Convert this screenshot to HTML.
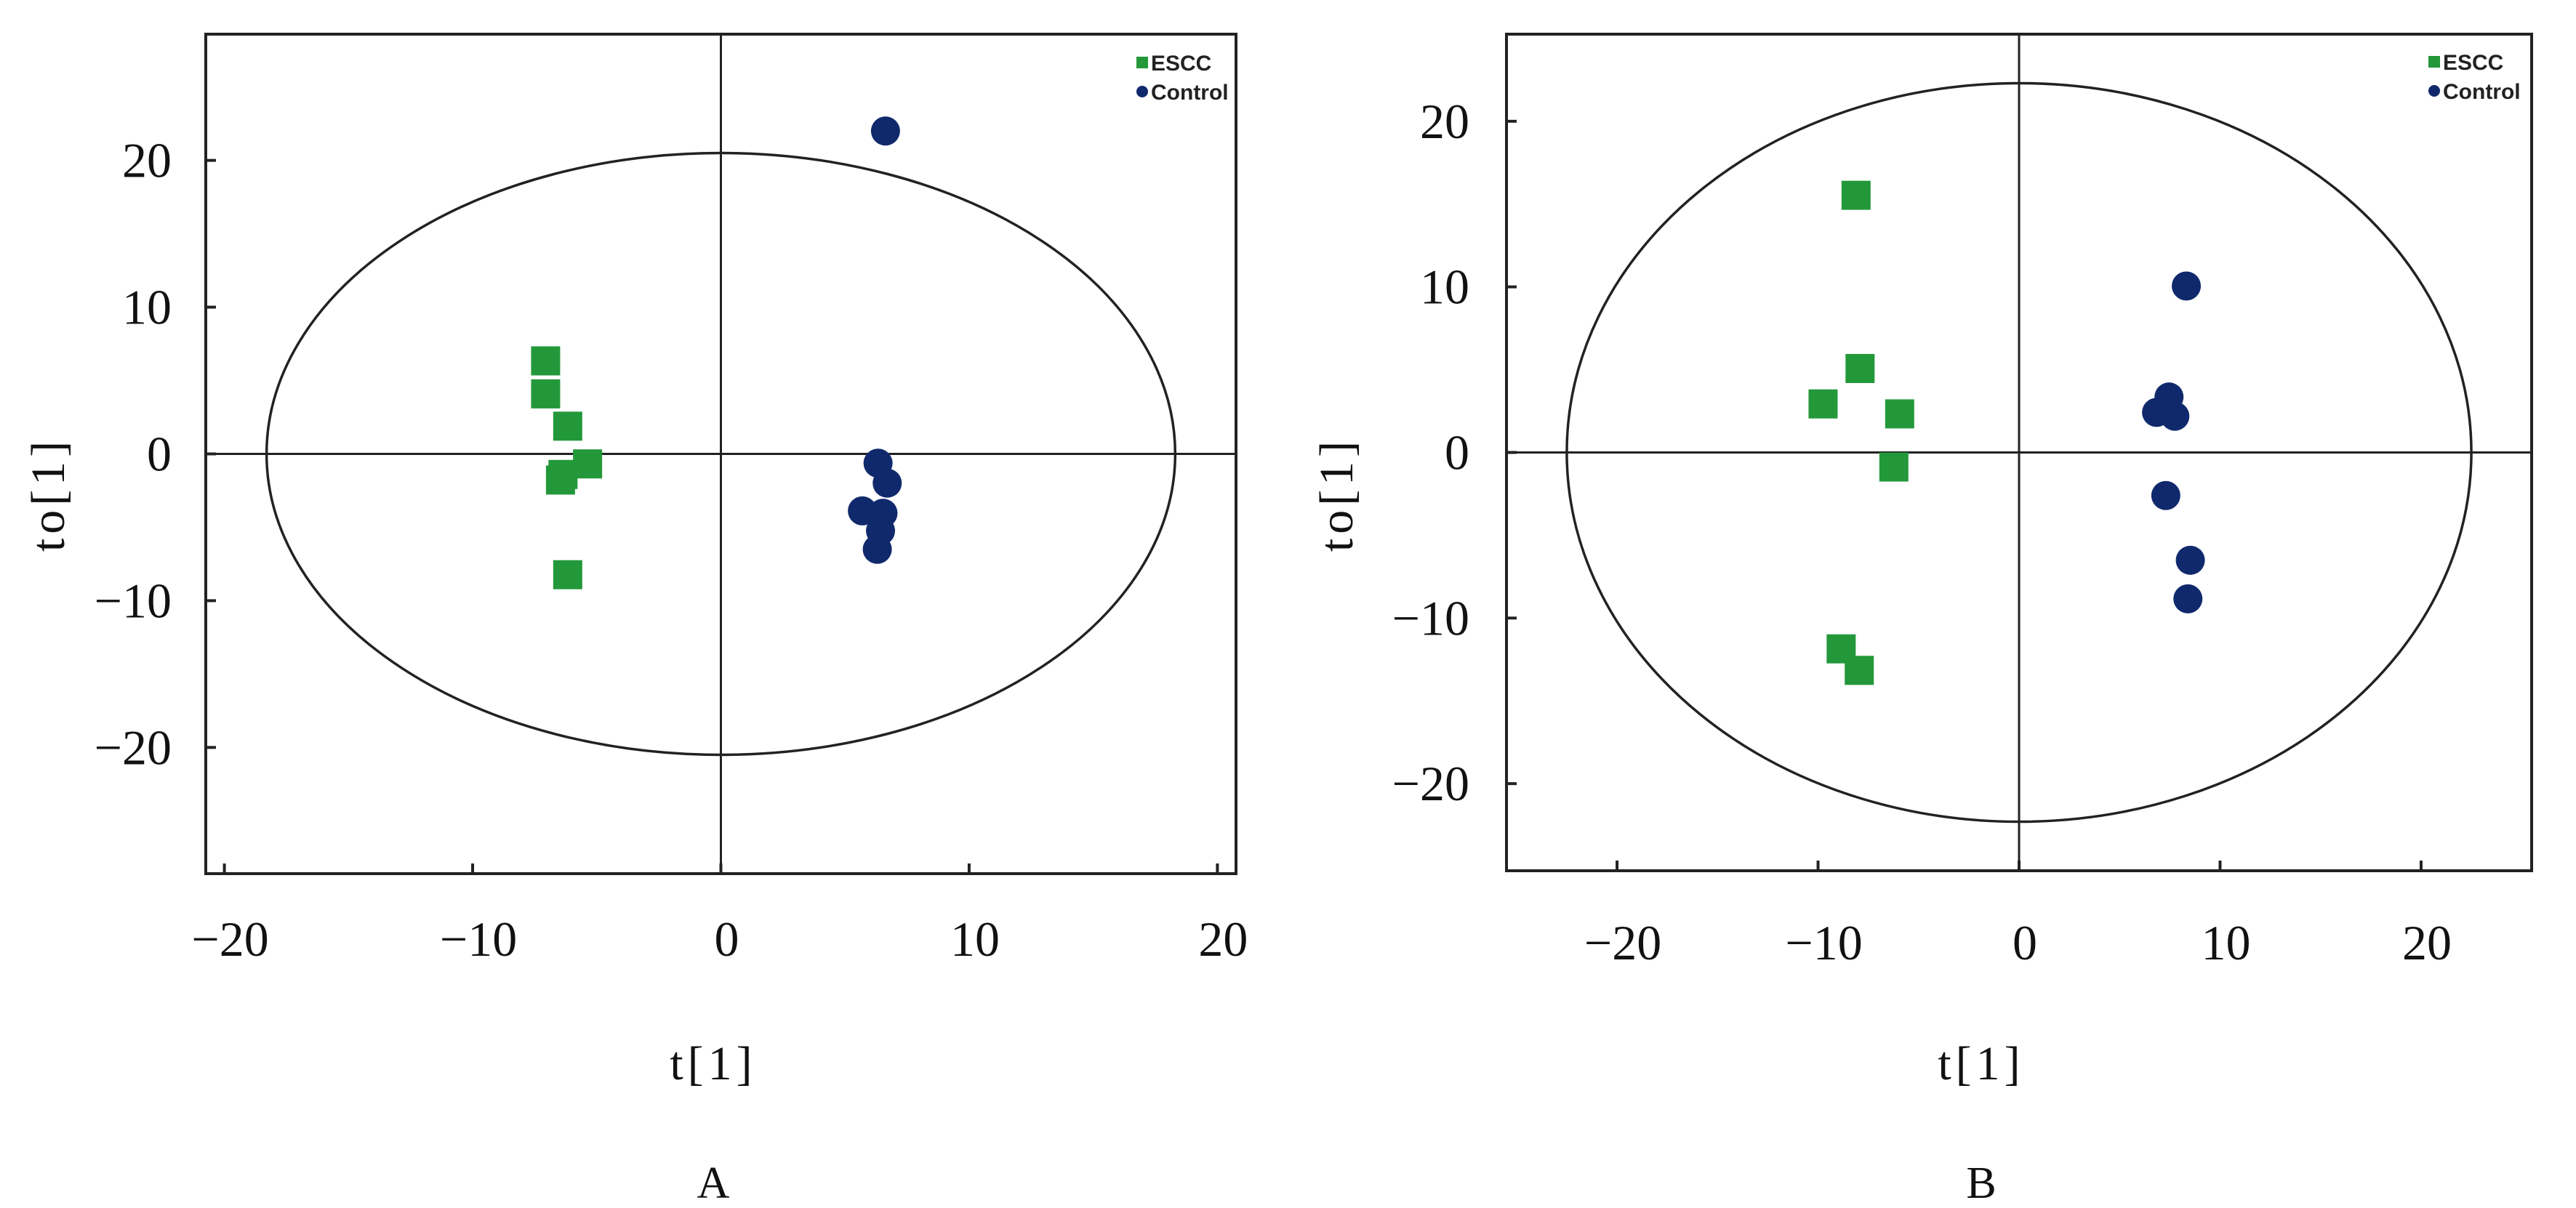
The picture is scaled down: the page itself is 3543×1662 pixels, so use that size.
<!DOCTYPE html>
<html><head><meta charset="utf-8"><style>html,body{margin:0;padding:0;background:#fff}svg{display:block}</style></head>
<body>
<svg id="fig" width="3543" height="1662" xmlns="http://www.w3.org/2000/svg"></svg>
<script>
const escA = [[-7.06,6.34],[-7.06,4.09],[-6.17,1.89],[-5.37,-0.68],[-6.46,-1.78],[-6.36,-1.4],[-6.17,-8.23]];
const ctlA = [[6.63,22.0],[6.33,-0.63],[6.70,-1.99],[5.70,-3.88],[6.53,-4.04],[6.43,-5.24],[6.30,-6.5]];
const escB = [[-8.11,15.53],[-7.91,5.07],[-9.75,2.93],[-5.94,2.33],[-6.23,-0.88],[-8.85,-11.86],[-7.95,-13.16]];
const ctlB = [[8.32,10.05],[7.46,3.35],[6.84,2.42],[7.75,2.19],[7.30,-2.60],[8.52,-6.51],[8.40,-8.84]];
const ticksA = [-20,-10,0,10,20];
const yTicksA = [-20,-10,0,10,20];
const ticksB = [-20,-10,0,10,20];
const yTicksB = [-20,-10,0,10,20];
const ellA = [18.3,20.5];
const ellB = [22.5,22.3];
const NS='http://www.w3.org/2000/svg';
const svg=document.getElementById('fig');
function mk(tag,attrs,parent){const e=document.createElementNS(NS,tag);for(const k in attrs)e.setAttribute(k,attrs[k]);(parent||svg).appendChild(e);return e;}
function fmt(v){return v<0?'\u2212'+(-v):''+v;}
function panel(cfg){
  const g=mk('g',{});
  
  
  const X=v=>cfg.x0+(v-cfg.xd[0])/(cfg.xd[1]-cfg.xd[0])*(cfg.x1-cfg.x0);
  const Y=v=>cfg.y1-(v-cfg.yd[0])/(cfg.yd[1]-cfg.yd[0])*(cfg.y1-cfg.y0);
  const fr=mk('rect',{x:cfg.x0,y:cfg.y0,width:cfg.x1-cfg.x0,height:cfg.y1-cfg.y0,fill:'none',stroke:'#222','stroke-width':4},g);
  
  const zx=mk('line',{x1:X(0),x2:X(0),y1:cfg.y0,y2:cfg.y1,stroke:'#222','stroke-width':3},g);
  
  const zy=mk('line',{x1:cfg.x0,x2:cfg.x1,y1:Y(0),y2:Y(0),stroke:'#222','stroke-width':3},g);
  
  const el=mk('ellipse',{cx:X(0),cy:Y(0),rx:X(cfg.ell[0])-X(0),ry:Y(0)-Y(cfg.ell[1]),fill:'none',stroke:'#222','stroke-width':3.5},g);
  
  cfg.xt.forEach(t=>{
    const l=mk('line',{x1:X(t),x2:X(t),y1:cfg.y1,y2:cfg.y1-14,stroke:'#222','stroke-width':4},g);
    
    const s=mk('text',{x:X(t)+8,y:cfg.xlBase,'font-size':68,'font-family':'Liberation Serif, serif','text-anchor':'middle',fill:'#111'},g);
    s.textContent=fmt(t);
    
  });
  cfg.yt.forEach(t=>{
    const l=mk('line',{x1:cfg.x0,x2:cfg.x0+14,y1:Y(t),y2:Y(t),stroke:'#222','stroke-width':4},g);
    
    const s=mk('text',{x:cfg.ylEnd,y:Y(t)+23,'font-size':68,'font-family':'Liberation Serif, serif','text-anchor':'end',fill:'#111'},g);
    s.textContent=fmt(t);
    
  });
  cfg.esc.forEach(p=>{
    const r=mk('rect',{x:X(p[0])-20,y:Y(p[1])-20,width:40,height:40,fill:'#23983a'},g);
    
  });
  cfg.ctl.forEach(p=>{
    const c=mk('circle',{cx:X(p[0]),cy:Y(p[1]),r:20,fill:'#10296c'},g);
    
  });
  const lg=mk('g',{},g);
  
  const ls=mk('rect',{x:cfg.lx-8,y:cfg.ly-8,width:16,height:16,fill:'#23983a'},lg);
  
  const lt=mk('text',{x:cfg.lx+12,y:cfg.ly+11,'font-size':30,'font-weight':'bold','font-family':'Liberation Sans, sans-serif',fill:'#222'},lg);
  lt.textContent='ESCC';
  const lc=mk('circle',{cx:cfg.lx,cy:cfg.ly+40,r:8,fill:'#10296c'},lg);
  
  const lt2=mk('text',{x:cfg.lx+12,y:cfg.ly+51,'font-size':30,'font-weight':'bold','font-family':'Liberation Sans, sans-serif',fill:'#222'},lg);
  lt2.textContent='Control';
  const xt=mk('text',{x:cfg.xtx,y:1485,'font-size':66,'font-family':'Liberation Serif, serif','text-anchor':'middle',fill:'#111','letter-spacing':6},g);
  xt.textContent='t[1]';
  const yt=mk('text',{x:0,y:0,'font-size':66,'font-family':'Liberation Serif, serif','text-anchor':'middle',fill:'#111','letter-spacing':6,transform:'translate('+cfg.ytx+',680) rotate(-90)'},g);
  yt.textContent='to[1]';
  const pl=mk('text',{x:cfg.xtx,y:1648,'font-size':62,'font-family':'Liberation Serif, serif','text-anchor':'middle',fill:'#111'},g);
  pl.textContent=cfg.label;
}
panel({name:'panel-a',x0:283,x1:1700,y0:47,y1:1202,xd:[-20.75,20.75],yd:[-28.6,28.6],xt:ticksA,yt:yTicksA,esc:escA,ctl:ctlA,ell:ellA,xlBase:1315,ylEnd:236,lx:1571,ly:86,xtx:981,ytx:88,label:'A'});
panel({name:'panel-b',x0:2072,x1:3482,y0:47,y1:1198,xd:[-25.5,25.5],yd:[-25.26,25.26],xt:ticksB,yt:yTicksB,esc:escB,ctl:ctlB,ell:ellB,xlBase:1320,ylEnd:2021,lx:3348,ly:85,xtx:2725,ytx:1860,label:'B'});
</script>
</body></html>
